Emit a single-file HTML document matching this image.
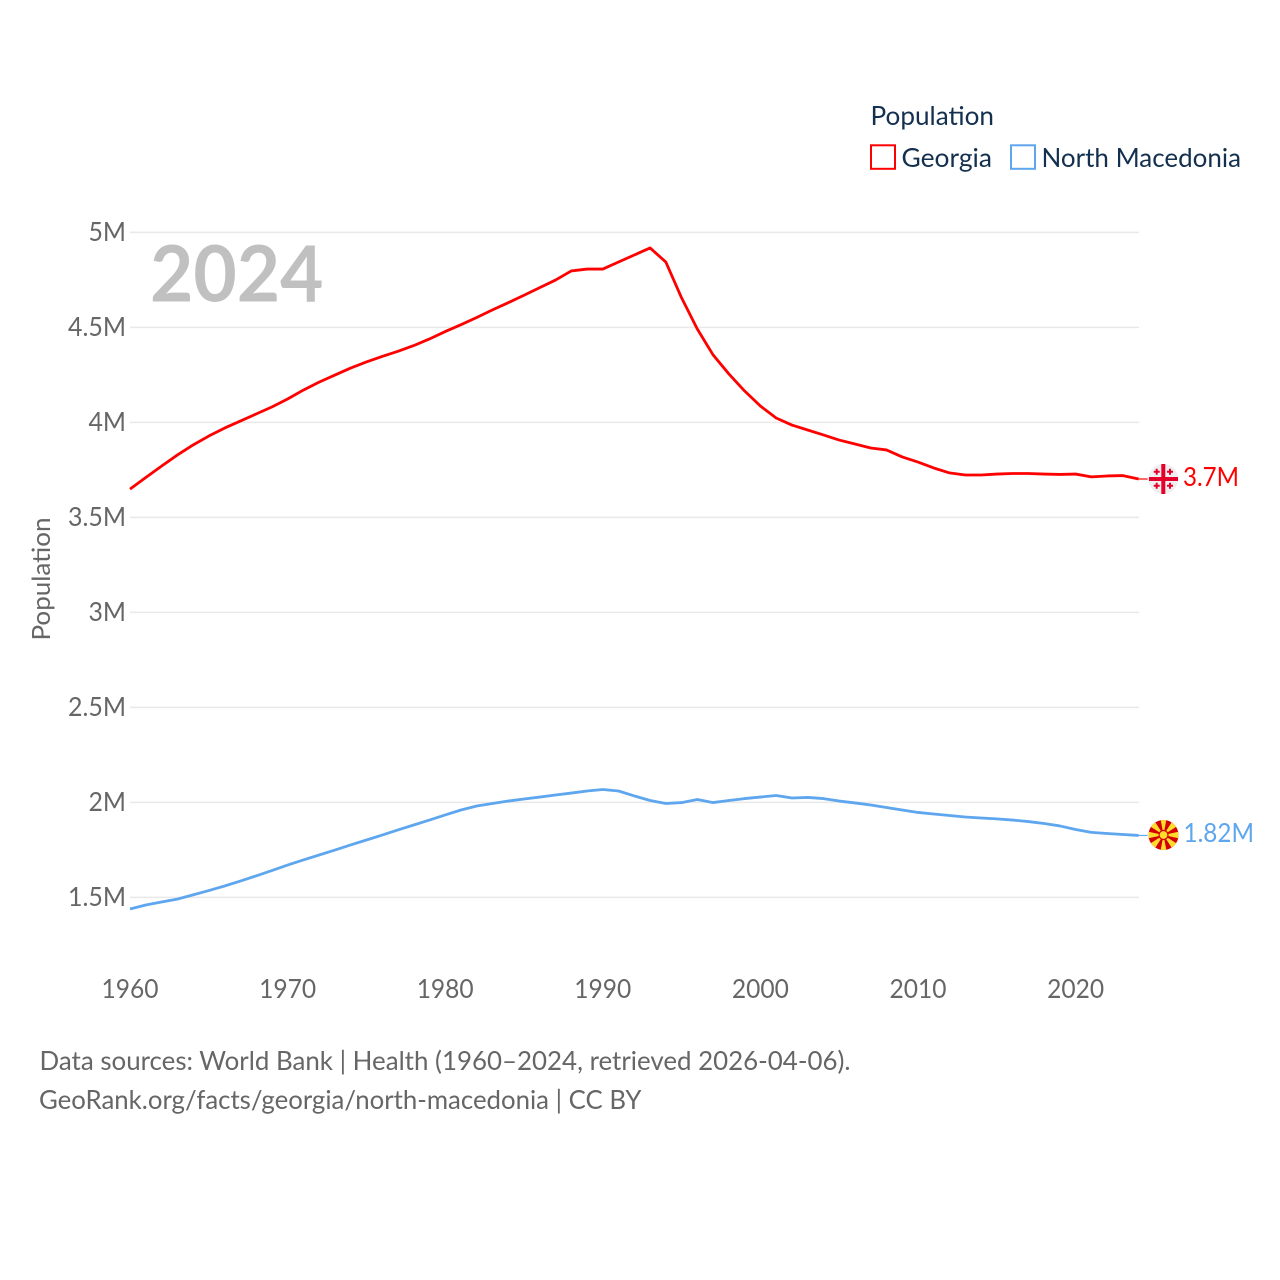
<!DOCTYPE html>
<html lang="en">
<head>
<meta charset="utf-8">
<title>Population: Georgia and North Macedonia</title>
<style>
html,body{margin:0;padding:0;background:#fff;width:1280px;height:1280px;overflow:hidden}
svg{display:block}
text{font-family:"Lato","Carlito","Liberation Sans",sans-serif}
</style>
</head>
<body>
<svg id="chart" xmlns="http://www.w3.org/2000/svg" width="1280" height="1280" viewBox="0 0 1280 1280">
  <defs>
    <clipPath id="mk-clip"><circle cx="1163.5" cy="835" r="15"/></clipPath>
  </defs>
  <rect width="1280" height="1280" fill="#fff"/>
  <g id="grid"></g>
  <g id="yticks"></g>
  <g id="xticks"></g>
  <text transform="translate(50,579) rotate(-90)" text-anchor="middle" font-size="25" fill="#666" textLength="123" lengthAdjust="spacingAndGlyphs">Population</text>
  <text x="150" y="301.500" font-size="78" font-weight="700" fill="#c0c0c0" textLength="173.500" lengthAdjust="spacingAndGlyphs">2024</text>

  <g>
    <text x="870.500" y="125" font-size="26" fill="#14304f" textLength="123.500" lengthAdjust="spacingAndGlyphs">Population</text>
    <rect x="871" y="145.300" width="24" height="23.500" fill="#fff" stroke="#ff0000" stroke-width="2"/>
    <text x="901.500" y="167" font-size="26" fill="#14304f" textLength="90.500" lengthAdjust="spacingAndGlyphs">Georgia</text>
    <rect x="1011" y="145.300" width="24" height="23.500" fill="#fff" stroke="#5ea6ee" stroke-width="2"/>
    <text x="1041.500" y="167" font-size="26" fill="#14304f" textLength="199.500" lengthAdjust="spacingAndGlyphs">North Macedonia</text>
  </g>

  <g id="series"></g>

  <g id="flag-georgia">
    <circle cx="1163.300" cy="479" r="15" fill="#efeff1"/>
    <rect x="1161.300" y="464" width="4" height="30" fill="#e4002b"/>
    <rect x="1149" y="477" width="29" height="4" fill="#e4002b"/>
    <path d="M1155.700 468.700h2v2h2v2h-2v2h-2v-2h-2v-2h2zM1169 468.700h2v2h2v2h-2v2h-2v-2h-2v-2h2zM1155.700 482.700h2v2h2v2h-2v2h-2v-2h-2v-2h2zM1169 482.700h2v2h2v2h-2v2h-2v-2h-2v-2h2z" fill="#e4002b"/>
  </g>
  <g id="flag-north-macedonia">
    <circle cx="1163.5" cy="835" r="15" fill="#d20000"/>
    <g fill="#ffdb2e" clip-path="url(#mk-clip)">
      <path d="M1163.500 835L1160.500 819H1166.500Z"/>
      <path transform="rotate(90 1163.5 835)" d="M1163.500 835L1160 819H1167Z"/>
      <path transform="rotate(180 1163.5 835)" d="M1163.500 835L1160.500 819H1166.500Z"/>
      <path transform="rotate(270 1163.5 835)" d="M1163.500 835L1160 819H1167Z"/>
      <path transform="rotate(45 1163.5 835)" d="M1163.500 835L1160 819H1167Z"/>
      <path transform="rotate(135 1163.5 835)" d="M1163.500 835L1160 819H1167Z"/>
      <path transform="rotate(225 1163.5 835)" d="M1163.500 835L1160 819H1167Z"/>
      <path transform="rotate(315 1163.5 835)" d="M1163.500 835L1160 819H1167Z"/>
    </g>
    <circle cx="1163.5" cy="835" r="4.500" fill="#ffdb2e" stroke="#d20000" stroke-width="1.200"/>
  </g>

  <text id="label-georgia" x="1183" y="486" font-size="26" fill="#ff0000" textLength="56" lengthAdjust="spacingAndGlyphs">3.7M</text>
  <text id="label-mk" x="1183.500" y="842" font-size="26" fill="#5ea6ee" textLength="70.500" lengthAdjust="spacingAndGlyphs">1.82M</text>

  <text x="39.500" y="1070" font-size="26" fill="#666" textLength="811" lengthAdjust="spacingAndGlyphs">Data sources: World Bank | Health (1960–2024, retrieved 2026-04-06).</text>
  <text x="39" y="1109" font-size="26" fill="#666" textLength="602.500" lengthAdjust="spacingAndGlyphs">GeoRank.org/facts/georgia/north-macedonia | CC BY</text>
</svg>
<script>
const startYear = 1960;
const yTickValues = [1.5, 2, 2.5, 3, 3.5, 4, 4.5, 5];
const yTickLabels = ["1.5M", "2M", "2.5M", "3M", "3.5M", "4M", "4.5M", "5M"];
const xTickValues = [1960, 1970, 1980, 1990, 2000, 2010, 2020];
const xTickLabels = ["1960", "1970", "1980", "1990", "2000", "2010", "2020"];
const georgiaValues = [3.647,3.708,3.768,3.826,3.879,3.926,3.968,4.005,4.042,4.079,
  4.121,4.168,4.21,4.247,4.284,4.316,4.345,4.372,4.402,4.437,
  4.476,4.512,4.55,4.59,4.628,4.667,4.707,4.747,4.795,4.805,
  4.805,4.842,4.879,4.916,4.842,4.653,4.489,4.353,4.253,4.163,
  4.084,4.021,3.984,3.958,3.932,3.905,3.884,3.863,3.853,3.816,
  3.789,3.758,3.732,3.721,3.721,3.726,3.729,3.729,3.726,3.724,
  3.726,3.711,3.716,3.718,3.7];
const macedoniaValues = [1.437,1.458,1.474,1.489,1.511,1.534,1.558,1.584,1.611,1.639,
  1.668,1.695,1.721,1.747,1.774,1.8,1.826,1.853,1.879,1.905,
  1.932,1.958,1.979,1.992,2.005,2.016,2.026,2.037,2.047,2.058,
  2.066,2.058,2.032,2.008,1.992,1.997,2.013,1.997,2.008,2.018,
  2.026,2.034,2.021,2.024,2.018,2.005,1.995,1.984,1.971,1.958,
  1.945,1.937,1.929,1.921,1.916,1.911,1.905,1.897,1.887,1.874,
  1.855,1.84,1.834,1.829,1.824];

const NS = "http://www.w3.org/2000/svg";
function xScale(year) { return 130 + (year - 1960) * 15.76; }
function yScale(v) { return 232 + (5 - v) * 190; }
function make(tag, attrs, parent) {
  const el = document.createElementNS(NS, tag);
  for (const k in attrs) el.setAttribute(k, attrs[k]);
  parent.appendChild(el);
  return el;
}

const grid = document.getElementById("grid");
const yticks = document.getElementById("yticks");
const xticks = document.getElementById("xticks");
const series = document.getElementById("series");

yTickValues.forEach(function (v, i) {
  const line = make("line", { x1: 130, x2: 1139, y1: yScale(v) + 0.4, y2: yScale(v) + 0.4, stroke: "#e9e9e9", "stroke-width": 1.5 }, grid);
  
  
  const t = make("text", { x: 126, y: yScale(v) + 9, "text-anchor": "end", "font-size": 26, fill: "#666" }, yticks);
  
  
  t.textContent = yTickLabels[i];
  t.setAttribute("textLength", yTickLabels[i].length === 2 ? 37.5 : 58);
  t.setAttribute("lengthAdjust", "spacingAndGlyphs");
});

xTickValues.forEach(function (year, i) {
  const t = make("text", { x: xScale(year), y: 998, "text-anchor": "middle", "font-size": 26, fill: "#666", textLength: 57, lengthAdjust: "spacingAndGlyphs" }, xticks);
  
  
  t.textContent = xTickLabels[i];
});

function drawSeries(values, color, name) {
  const d = values.map(function (v, i) {
    return (i ? "L" : "M") + xScale(startYear + i).toFixed(2) + " " + yScale(v).toFixed(2);
  }).join("");
  const path = make("path", { d: d, fill: "none", stroke: color, "stroke-width": 2.8, "stroke-linejoin": "round" }, series);
  
  
  const lastY = yScale(values[values.length - 1]);
  const lastX = xScale(startYear + values.length - 1);
  const conn = make("line", { x1: lastX, x2: lastX + 9, y1: lastY, y2: lastY, stroke: color, "stroke-width": 1.2 }, series);
  
  
}
drawSeries(georgiaValues, "#ff0000", "line-georgia");
drawSeries(macedoniaValues, "#5ea6ee", "line-north-macedonia");
</script>
</body>
</html>
